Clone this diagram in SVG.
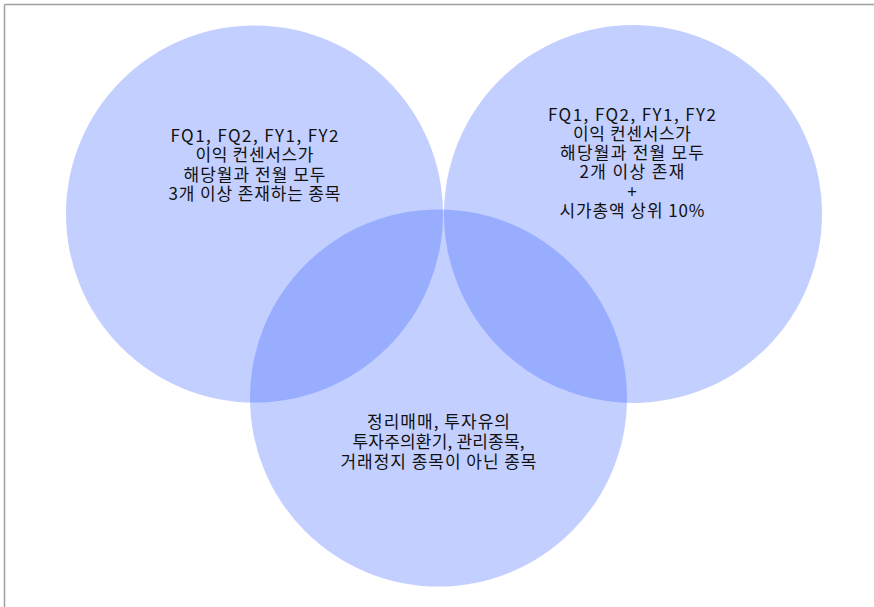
<svg xmlns="http://www.w3.org/2000/svg" width="874" height="607" viewBox="0 0 874 607">
  <style>
    .set { fill: rgb(55,95,255); fill-opacity: 0.3; stroke: none; }
    .lbl { font-family: "Noto Sans CJK KR", "Noto Sans", sans-serif; font-size: 17px; fill: #111111; text-anchor: middle; }
    .frame { stroke: #a0a0a0; stroke-width: 1.5; fill: none; }
  </style>
  <rect width="874" height="607" fill="#ffffff"/>
  <g id="frame">
    <line class="frame" x1="4.5" y1="4.5" x2="874" y2="4.5"/>
    <line class="frame" x1="4.5" y1="4.5" x2="4.5" y2="607"/>
  </g>
  <g id="connectors"></g>
  <g id="node-left">
    <circle class="set" cx="254.5" cy="214" r="188.5"/>
    <text class="lbl" x="254.5" y="142" textLength="168" lengthAdjust="spacing">FQ1, FQ2, FY1, FY2</text>
    <text class="lbl" x="254.5" y="161.3" textLength="118" lengthAdjust="spacing">이익 컨센서스가</text>
    <text class="lbl" x="254.5" y="180.6" textLength="142" lengthAdjust="spacing">해당월과 전월 모두</text>
    <text class="lbl" x="254.5" y="200" textLength="172" lengthAdjust="spacing">3개 이상 존재하는 종목</text>
  </g>
  <g id="node-right">
    <circle class="set" cx="633" cy="214" r="189"/>
    <text class="lbl" x="632" y="120.5" textLength="168" lengthAdjust="spacing">FQ1, FQ2, FY1, FY2</text>
    <text class="lbl" x="632" y="139.8" textLength="118" lengthAdjust="spacing">이익 컨센서스가</text>
    <text class="lbl" x="632" y="159.1" textLength="144" lengthAdjust="spacing">해당월과 전월 모두</text>
    <text class="lbl" x="632" y="178.4" textLength="105" lengthAdjust="spacing">2개 이상 존재</text>
    <text class="lbl" x="632" y="197.7">+</text>
    <text class="lbl" x="632" y="217" textLength="145" lengthAdjust="spacing">시가총액 상위 10%</text>
  </g>
  <g id="node-bottom">
    <circle class="set" cx="438.5" cy="398" r="188.5"/>
    <text class="lbl" x="438.5" y="427.5" textLength="143" lengthAdjust="spacing">정리매매, 투자유의</text>
    <text class="lbl" x="438.5" y="447.5" textLength="172" lengthAdjust="spacing">투자주의환기, 관리종목,</text>
    <text class="lbl" x="438.5" y="467.5" textLength="196" lengthAdjust="spacing">거래정지 종목이 아닌 종목</text>
  </g>
</svg>
